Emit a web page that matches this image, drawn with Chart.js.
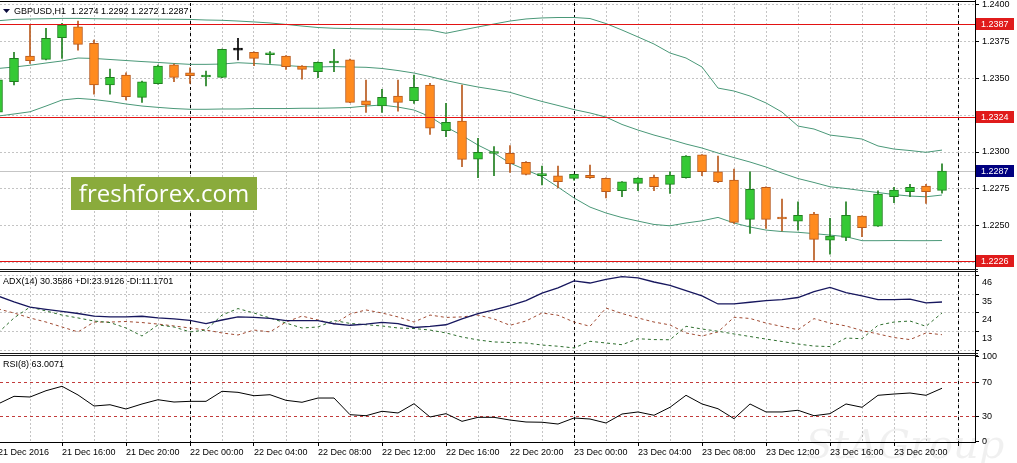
<!DOCTYPE html>
<html>
<head>
<meta charset="utf-8">
<title>GBPUSD H1</title>
<script src="https://cdn.jsdelivr.net/npm/chart.js@4.4.1/dist/chart.umd.min.js"></script>
<style>
  html, body { margin: 0; padding: 0; background: #fff; }
  #wrap { width: 1017px; height: 463px; }
</style>
</head>
<body>
<div id="wrap"><canvas id="gbpusdChart" width="1017" height="463"></canvas></div>
<script>
// GBPUSD H1, 21 Dec 12:00 .. 23 Dec 23:00 (60 bars)
const openPrices = [1.2327, 1.23477, 1.23652, 1.23629, 1.23776, 1.23849, 1.23738, 1.23455, 1.23523, 1.23371,
  1.23464, 1.23591, 1.23538, 1.23509, 1.23507, 1.23692, 1.23677, 1.2366, 1.23652, 1.23584,
  1.23545, 1.23604, 1.23625, 1.23348, 1.23312, 1.2338, 1.23348, 1.23455, 1.23144, 1.2321,
  1.22952, 1.2299, 1.22991, 1.2293, 1.2284, 1.22839, 1.22821, 1.22842, 1.22821, 1.22737,
  1.22787, 1.22828, 1.2278, 1.22825, 1.2298, 1.22866, 1.2281, 1.22543, 1.2276, 1.22548,
  1.22531, 1.22579, 1.22402, 1.22421, 1.22565, 1.22497, 1.22696, 1.2273, 1.22769, 1.2274];
const highPrices = [1.2352, 1.23677, 1.23862, 1.2384, 1.23874, 1.23889, 1.2376, 1.23563, 1.23538, 1.23482,
  1.2359, 1.23597, 1.23572, 1.2355, 1.23699, 1.23772, 1.2368, 1.23681, 1.23655, 1.23586,
  1.23612, 1.23697, 1.23631, 1.23489, 1.23426, 1.23489, 1.23523, 1.23466, 1.2333, 1.23455,
  1.23093, 1.23036, 1.23043, 1.22935, 1.22905, 1.22905, 1.2285, 1.22912, 1.22824, 1.228,
  1.22826, 1.22844, 1.22866, 1.22975, 1.22982, 1.22973, 1.22884, 1.22866, 1.22763, 1.22681,
  1.22662, 1.2259, 1.2255, 1.22662, 1.22567, 1.22737, 1.2276, 1.2278, 1.2278, 1.2292];
const lowPrices = [1.2322, 1.23455, 1.23602, 1.23625, 1.23636, 1.23692, 1.23392, 1.23392, 1.23353, 1.23337,
  1.2346, 1.23477, 1.23466, 1.23448, 1.23505, 1.23625, 1.23586, 1.23602, 1.23561, 1.23495,
  1.23504, 1.23545, 1.23335, 1.23269, 1.23269, 1.23278, 1.2333, 1.2312, 1.23104, 1.229,
  1.22825, 1.22839, 1.22862, 1.22845, 1.22776, 1.22757, 1.22808, 1.22821, 1.22689, 1.22696,
  1.22737, 1.22737, 1.22719, 1.22823, 1.22839, 1.22791, 1.22516, 1.22448, 1.22482, 1.22465,
  1.2247, 1.22266, 1.22307, 1.22398, 1.22425, 1.22495, 1.22656, 1.22696, 1.22651, 1.2272];
const closePrices = [1.2349, 1.23636, 1.2362, 1.23772, 1.23862, 1.23731, 1.23455, 1.23507, 1.23375, 1.23477,
  1.23584, 1.23507, 1.23518, 1.23523, 1.23697, 1.23692, 1.23636, 1.23664, 1.23579, 1.23561,
  1.23609, 1.2361, 1.23337, 1.23319, 1.23371, 1.23337, 1.23439, 1.23161, 1.23201, 1.2295,
  1.22998, 1.22995, 1.2292, 1.22848, 1.22844, 1.22798, 1.22848, 1.22825, 1.2273, 1.22798,
  1.22823, 1.22764, 1.22844, 1.22973, 1.22866, 1.22798, 1.22522, 1.22747, 1.22543, 1.22545,
  1.2257, 1.22407, 1.22429, 1.2257, 1.22486, 1.22715, 1.22742, 1.2276, 1.2273, 1.2287];

// Bollinger bands
const bbUpper = [1.23891, 1.239, 1.23903, 1.23905, 1.23907, 1.23907, 1.23905, 1.23903, 1.23903, 1.23902,
  1.23902, 1.23901, 1.239, 1.23896, 1.23894, 1.23889, 1.23883, 1.23876, 1.23866, 1.23855,
  1.23845, 1.2384, 1.23838, 1.23836, 1.23835, 1.23833, 1.23832, 1.23828, 1.23806, 1.23828,
  1.23849, 1.23869, 1.23889, 1.23903, 1.2391, 1.23913, 1.23913, 1.23906, 1.23872, 1.23828,
  1.23781, 1.23733, 1.23672, 1.23638, 1.23577, 1.23434, 1.23414, 1.2338, 1.23333, 1.23271,
  1.23176, 1.23156, 1.23115, 1.23102, 1.23088, 1.23041, 1.2302, 1.2301, 1.22998, 1.23013];
const bbMiddle = [1.23567, 1.23577, 1.23589, 1.23604, 1.23618, 1.23638, 1.23635, 1.23628, 1.23621, 1.23614,
  1.23608, 1.23601, 1.23595, 1.23595, 1.23597, 1.23606, 1.23601, 1.23594, 1.23587, 1.2358,
  1.23577, 1.2358, 1.23577, 1.23575, 1.23567, 1.23553, 1.23536, 1.23512, 1.23485, 1.23462,
  1.23441, 1.23424, 1.23405, 1.23373, 1.23343, 1.23316, 1.23288, 1.23265, 1.23237, 1.23187,
  1.23149, 1.23115, 1.23086, 1.23054, 1.23027, 1.22993, 1.22962, 1.22932, 1.22898, 1.22857,
  1.2282, 1.22793, 1.22764, 1.22752, 1.22738, 1.22725, 1.22711, 1.22701, 1.22696, 1.22708];
const bbLower = [1.23244, 1.23258, 1.23273, 1.23312, 1.23353, 1.23364, 1.23356, 1.23343, 1.23326, 1.23312,
  1.23303, 1.23295, 1.2329, 1.2329, 1.23292, 1.23292, 1.23295, 1.23295, 1.23295, 1.23297,
  1.23297, 1.23299, 1.23302, 1.23312, 1.23319, 1.23305, 1.23285, 1.2324, 1.2317, 1.23112,
  1.23047, 1.22993, 1.22925, 1.22878, 1.22833, 1.22762, 1.22688, 1.22626, 1.22586, 1.22555,
  1.22531, 1.22508, 1.22499, 1.22518, 1.22533, 1.22556, 1.22518, 1.22491, 1.2247, 1.2246,
  1.22455, 1.22446, 1.22436, 1.22425, 1.22398, 1.22398, 1.22399, 1.22398, 1.22398, 1.22399];

// ADX(14)
const adxMain = [33.9, 30.4, 27.3, 26.0, 24.8, 23.6, 22.1, 21.6, 21.6, 22.0,
  21.0, 20.4, 19.6, 17.7, 19.8, 21.6, 21.3, 20.7, 19.4, 19.4,
  19.4, 17.6, 16.7, 17.4, 18.4, 17.7, 15.4, 16.0, 17.0, 20.4,
  23.6, 25.7, 28.3, 31.2, 35.6, 38.6, 42.7, 41.5, 43.6, 45.3,
  44.5, 42.1, 40.1, 37.1, 33.9, 29.2, 29.2, 30.2, 31.2, 31.8,
  33.0, 36.5, 38.9, 35.9, 33.9, 31.8, 31.8, 32.1, 29.8, 30.3586];
const plusDI = [12.2, 21.0, 27.4, 25.1, 22.7, 21.0, 19.2, 18.3, 15.1, 10.4,
  16.9, 15.7, 12.8, 13.9, 22.7, 26.5, 23.9, 21.0, 18.0, 15.1,
  15.7, 19.5, 17.8, 17.0, 16.3, 15.1, 14.8, 13.9, 12.2, 9.8,
  8.1, 6.9, 6.6, 6.3, 5.1, 4.4, 3.4, 7.3, 6.3, 5.3,
  8.8, 8.3, 8.2, 16.1, 14.5, 13.2, 11.6, 10.1, 8.6, 7.2,
  5.7, 4.5, 4.2, 9.2, 8.8, 16.7, 18.6, 19.2, 16.1, 23.9126];
const minusDI = [26.3, 23.9, 21.0, 18.6, 15.7, 12.8, 18.6, 18.6, 18.9, 18.3,
  17.4, 16.3, 15.1, 13.9, 12.2, 11.0, 13.9, 12.8, 18.6, 22.1,
  19.8, 17.4, 23.3, 25.7, 23.9, 21.6, 18.6, 22.7, 21.3, 21.6,
  22.7, 20.4, 16.7, 19.2, 23.9, 22.6, 18.6, 16.1, 26.8, 23.6,
  21.0, 18.6, 16.9, 12.2, 10.4, 12.8, 21.4, 20.7, 18.0, 16.0,
  14.1, 20.6, 18.0, 16.3, 13.6, 11.6, 9.5, 8.3, 12.2, 11.1701];

// RSI(8)
const rsiValues = [44.5, 53.5, 52.7, 60.1, 65.3, 55.1, 42.1, 43.6, 38.6, 44.5,
  49.5, 46.8, 47.6, 47.6, 59.4, 58.2, 54.2, 55.4, 48.8, 46.5,
  51.5, 51.5, 31.9, 30.7, 35.9, 33.9, 44.8, 29.2, 33.1, 24.1,
  28.8, 28.8, 25.6, 23.3, 23.0, 20.9, 28.0, 26.8, 22.1, 32.7,
  35.1, 31.2, 40.6, 54.7, 44.5, 38.9, 27.2, 44.5, 35.1, 35.1,
  37.1, 30.7, 33.1, 44.5, 40.6, 54.7, 56.2, 57.4, 54.7, 63.0071];

// axis labels (one every 4 bars, first one sits on bar 0)
const timeLabels = ["21 Dec 2016", "21 Dec 16:00", "21 Dec 20:00", "22 Dec 00:00", "22 Dec 04:00",
  "22 Dec 08:00", "22 Dec 12:00", "22 Dec 16:00", "22 Dec 20:00", "23 Dec 00:00", "23 Dec 04:00",
  "23 Dec 08:00", "23 Dec 12:00", "23 Dec 16:00", "23 Dec 20:00"];
const priceTicks = [1.2400, 1.2375, 1.2350, 1.2325, 1.2300, 1.2275, 1.2250, 1.2225];
const adxTicks = [46, 35, 24, 13, 2];
const rsiTicks = [100, 70, 30, 0];
const rsiLevels = [70, 30];
const levelPrices = [1.2387, 1.2324, 1.2226];
const lastPrice = 1.2287;
const daySeparators = [12, 36, 60];

const bars = openPrices.map((o, i) => i);
const bodyFill = openPrices.map((o, i) => closePrices[i] > o ? "#35c935" : (closePrices[i] < o ? "#ff8b1f" : "#000000"));
const barEdge = openPrices.map((o, i) => closePrices[i] > o ? "#1f7f1f" : (closePrices[i] < o ? "#b85a1e" : "#000000"));

function series(values) {
    return values.map((v, i) => ({x: bars[i], y: v}));
}

function hLine(ctx, x1, x2, y, color, dash) {
    const py = Math.round(y) + 0.5;
    ctx.strokeStyle = color;
    ctx.setLineDash(dash);
    ctx.beginPath();
    ctx.moveTo(x1, py);
    ctx.lineTo(x2, py);
    ctx.stroke();
}

// no label overhang padding, so the panes sit exactly where MT4 puts them
function noPad(scale) {
    scale.paddingTop = 0;
    scale.paddingBottom = 0;
    scale.paddingLeft = 0;
    scale.paddingRight = 0;
}

// MT4 style extras: level lines, separators, axis price boxes, headers
const mt4Overlay = {
    id: "mt4Overlay",
    beforeDatasetsDraw(chart) {
        const ctx = chart.ctx;
        const area = chart.chartArea;
        const xs = chart.scales.x;
        const ys = chart.scales.y;
        const rs = chart.scales.yRsi;
        ctx.save();
        ctx.lineWidth = 1;
        hLine(ctx, area.left, area.right, ys.getPixelForValue(lastPrice), "#c4c4c4", []);
        rsiLevels.forEach(v => hLine(ctx, area.left, area.right, rs.getPixelForValue(v), "#c23b3b", [3, 3]));

        // day separators
        ctx.strokeStyle = "#000000";
        ctx.setLineDash([3, 3]);
        daySeparators.forEach(i => {
            const px = Math.round(xs.getPixelForValue(i)) + 0.5;
            ctx.beginPath();
            ctx.moveTo(px, area.top);
            ctx.lineTo(px, area.bottom);
            ctx.stroke();
        });
        ctx.restore();
    },
    afterDatasetsDraw(chart) {
        const ctx = chart.ctx;
        const area = chart.chartArea;
        const ys = chart.scales.y;
        ctx.save();
        ctx.lineWidth = 1.2;
        levelPrices.forEach(p => hLine(ctx, area.left, area.right, ys.getPixelForValue(p), "rgb(226, 18, 18)", []));
        ctx.restore();
    },
    afterDraw(chart) {
        const ctx = chart.ctx;
        const area = chart.chartArea;
        const ys = chart.scales.y;
        ctx.save();
        ctx.lineWidth = 1;

        // window frame + pane separators (double lines)
        hLine(ctx, 0, area.right, 1, "#000000", []);
        [chart.scales.y, chart.scales.yAdx].forEach(s => {
            hLine(ctx, 0, area.right + 3, s.bottom - 1, "#1a1a1a", []);
            hLine(ctx, 0, area.right + 3, s.bottom + 1, "#1a1a1a", []);
        });
        ctx.strokeStyle = "#000000";
        ctx.beginPath();
        ctx.moveTo(area.right + 0.5, 0);
        ctx.lineTo(area.right + 0.5, area.top);
        ctx.stroke();

        // price boxes on the axis
        ctx.font = "9px 'Liberation Sans', Arial, sans-serif";
        ctx.textBaseline = "middle";
        ctx.textAlign = "left";
        const box = (value, bg) => {
            const y = Math.round(ys.getPixelForValue(value));
            ctx.fillStyle = bg;
            ctx.fillRect(area.right + 1, y - 6, 38, 12);
            ctx.fillStyle = "#ffffff";
            ctx.fillText(value.toFixed(4), area.right + 6, y + 0.5);
        };
        levelPrices.forEach(p => box(p, "#e01b1b"));
        box(lastPrice, "#000080");

        // headers
        ctx.beginPath();
        ctx.moveTo(3, 9);
        ctx.lineTo(10, 9);
        ctx.lineTo(6.5, 13);
        ctx.closePath();
        ctx.fillStyle = "#0a0a3c";
        ctx.fill();
        ctx.fillStyle = "#000000";
        ctx.fillText("GBPUSD,H1  1.2274 1.2292 1.2272 1.2287", 14, 12);
        ctx.fillText("ADX(14) 30.3586 +DI:23.9126 -DI:11.1701", 3, chart.scales.yAdx.top + 12);
        ctx.fillText("RSI(8) 63.0071", 3, chart.scales.yRsi.top + 11);

        // freshforex badge
        ctx.fillStyle = "#8aab3c";
        ctx.fillRect(71, 177, 186, 33);
        ctx.fillStyle = "#ffffff";
        ctx.font = "24px 'Open Sans', sans-serif";
        ctx.textAlign = "center";
        ctx.textBaseline = "alphabetic";
        ctx.fillText("freshforex.com", 164, 202);

        // faint logo, bottom right
        ctx.fillStyle = "rgba(0, 0, 0, 0.06)";
        ctx.font = "italic 40px 'DejaVu Serif', serif";
        ctx.fillText("StAGroup", 905, 458);
        ctx.restore();
    }
};

Chart.defaults.font.family = "'Liberation Sans', Arial, sans-serif";
Chart.defaults.font.size = 9;
Chart.defaults.color = "#000000";

const gridDash = [2, 2];
const gridColor = "#c4c4c4";

new Chart(document.getElementById("gbpusdChart"), {
    type: "bar",
    data: {
        datasets: [{
            // candle bodies
            type: "bar",
            data: bars.map(i => ({x: i, y: [openPrices[i], closePrices[i]]})),
            backgroundColor: bodyFill,
            borderColor: barEdge,
            borderWidth: 1,
            borderSkipped: false,
            barThickness: 9,
            minBarLength: 2,
            grouped: false,
            yAxisID: "y",
            order: 0
        }, {
            // wicks
            type: "bar",
            data: bars.map(i => ({x: i, y: [lowPrices[i], highPrices[i]]})),
            backgroundColor: barEdge,
            borderWidth: 0,
            barThickness: 1,
            grouped: false,
            yAxisID: "y",
            order: 1
        }, {
            type: "line", data: series(bbUpper), borderColor: "#4a9878", borderWidth: 1,
            pointRadius: 0, fill: false, tension: 0, yAxisID: "y", order: 2
        }, {
            type: "line", data: series(bbMiddle), borderColor: "#4a9878", borderWidth: 1,
            pointRadius: 0, fill: false, tension: 0, yAxisID: "y", order: 2
        }, {
            type: "line", data: series(bbLower), borderColor: "#4a9878", borderWidth: 1,
            pointRadius: 0, fill: false, tension: 0, yAxisID: "y", order: 2
        }, {
            type: "line", data: series(adxMain), borderColor: "#17175e", borderWidth: 1.3,
            pointRadius: 0, fill: false, tension: 0, yAxisID: "yAdx", order: 2
        }, {
            type: "line", data: series(plusDI), borderColor: "#2d6e2d", borderWidth: 1, borderDash: [3, 3],
            pointRadius: 0, fill: false, tension: 0, yAxisID: "yAdx", order: 2
        }, {
            type: "line", data: series(minusDI), borderColor: "#a04a32", borderWidth: 1, borderDash: [3, 3],
            pointRadius: 0, fill: false, tension: 0, yAxisID: "yAdx", order: 2
        }, {
            type: "line", data: series(rsiValues), borderColor: "#000000", borderWidth: 1,
            pointRadius: 0, fill: false, tension: 0, yAxisID: "yRsi", order: 2
        }]
    },
    options: {
        responsive: false,
        animation: false,
        devicePixelRatio: 1,
        events: [],
        layout: { padding: { top: 3, left: 0, right: 0, bottom: 0 } },
        plugins: {
            legend: { display: false },
            tooltip: { enabled: false }
        },
        scales: {
            x: {
                type: "linear",
                position: "bottom",
                min: 0.125,
                max: 61.0625,
                offset: false,
                grid: {
                    offset: false,
                    color: gridColor,
                    tickColor: ctx => (ctx.tick && ctx.tick.value % 4 === 0) ? "#000000" : "rgba(0,0,0,0)",
                    tickLength: 4,
                    tickBorderDash: []
                },
                border: { color: "#000000", dash: gridDash },
                ticks: {
                    autoSkip: false,
                    maxRotation: 0,
                    minRotation: 0,
                    align: "start",
                    padding: 1,
                    callback: v => (v % 4 === 0 ? (timeLabels[v / 4] || "") : "")
                },
                afterBuildTicks: scale => {
                    const t = [];
                    for (let i = 0; i <= 60; i += 2) t.push({value: i});
                    scale.ticks = t;
                },
                afterFit: scale => { scale.height = 21; noPad(scale); }
            },
            y: {
                position: "right",
                stack: "panes",
                stackWeight: 267,
                min: 1.221990,
                max: 1.240115,
                grid: { color: gridColor, lineWidth: 1, tickColor: "#000000", tickLength: 4, tickBorderDash: [] },
                border: { color: "#000000", dash: gridDash },
                ticks: { autoSkip: false, padding: 3, callback: v => v.toFixed(4) },
                afterBuildTicks: scale => { scale.ticks = priceTicks.map(v => ({value: v})); },
                afterFit: scale => { scale.width = 42; noPad(scale); }
            },
            yAdx: {
                position: "right",
                stack: "panes",
                stackWeight: 84,
                min: -0.16,
                max: 49.14,
                grid: { color: gridColor, lineWidth: 1, tickColor: "#000000", tickLength: 4, tickBorderDash: [] },
                border: { color: "#000000", dash: gridDash },
                ticks: { autoSkip: false, padding: 3, labelOffset: 7, callback: v => (v === 2 ? "" : String(v)) },
                afterBuildTicks: scale => { scale.ticks = adxTicks.map(v => ({value: v})); },
                afterFit: scale => { scale.width = 42; noPad(scale); }
            },
            yRsi: {
                position: "right",
                stack: "panes",
                stackWeight: 88,
                min: -0.24,
                max: 103.3,
                grid: { drawOnChartArea: false, tickColor: "#000000", tickLength: 4 },
                border: { color: "#000000" },
                ticks: { autoSkip: false, padding: 3, callback: v => String(v) },
                afterBuildTicks: scale => { scale.ticks = rsiTicks.map(v => ({value: v})); },
                afterFit: scale => { scale.width = 42; noPad(scale); }
            }
        }
    },
    plugins: [mt4Overlay]
});
</script>
</body>
</html>
